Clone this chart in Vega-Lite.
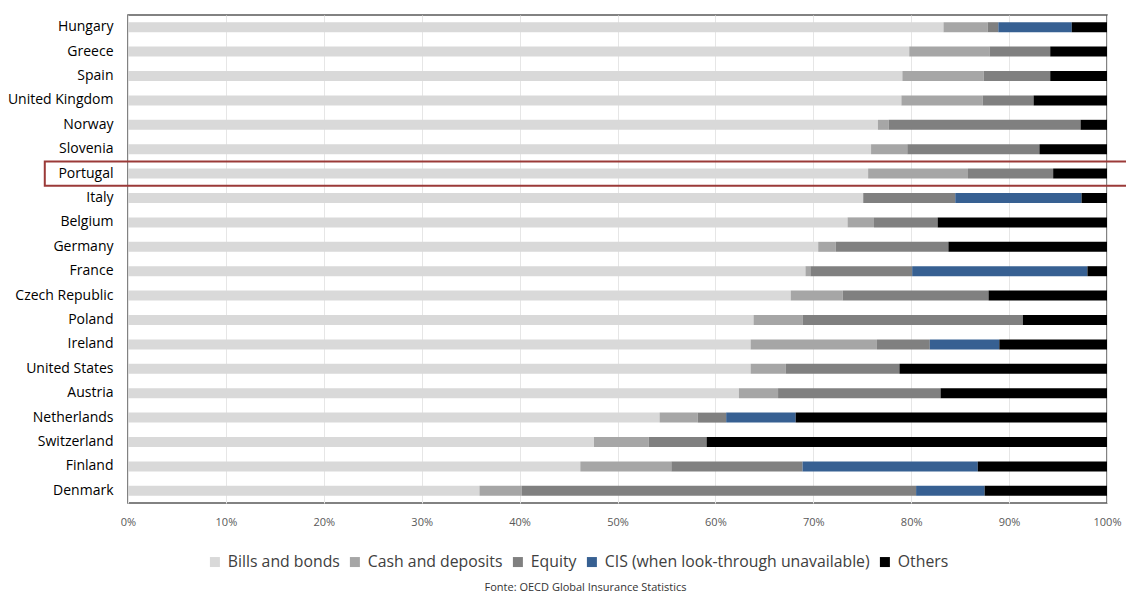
{
  "$schema": "https://vega.github.io/schema/vega-lite/v6.json",
  "width": 979,
  "height": 488,
  "autosize": "none",
  "padding": {"left": 128, "top": 15, "right": 19, "bottom": 90},
  "background": "white",
  "config": {"view": {"stroke": "#595959", "strokeWidth": 1.5}, "font": "Open Sans"},
  "data": {"values": [
    {"country": "Hungary", "Bills and bonds": 83.3, "Cash and deposits": 4.5, "Equity": 1.1, "CIS (when look-through unavailable)": 7.5, "Others": 3.6},
    {"country": "Greece", "Bills and bonds": 79.8, "Cash and deposits": 8.2, "Equity": 6.2, "CIS (when look-through unavailable)": 0, "Others": 5.8},
    {"country": "Spain", "Bills and bonds": 79.1, "Cash and deposits": 8.3, "Equity": 6.8, "CIS (when look-through unavailable)": 0, "Others": 5.8},
    {"country": "United Kingdom", "Bills and bonds": 79.0, "Cash and deposits": 8.3, "Equity": 5.2, "CIS (when look-through unavailable)": 0, "Others": 7.5},
    {"country": "Norway", "Bills and bonds": 76.6, "Cash and deposits": 1.1, "Equity": 19.6, "CIS (when look-through unavailable)": 0, "Others": 2.7},
    {"country": "Slovenia", "Bills and bonds": 75.9, "Cash and deposits": 3.7, "Equity": 13.5, "CIS (when look-through unavailable)": 0, "Others": 6.9},
    {"country": "Portugal", "Bills and bonds": 75.6, "Cash and deposits": 10.2, "Equity": 8.7, "CIS (when look-through unavailable)": 0, "Others": 5.5},
    {"country": "Italy", "Bills and bonds": 75.1, "Cash and deposits": 0, "Equity": 9.4, "CIS (when look-through unavailable)": 12.9, "Others": 2.6},
    {"country": "Belgium", "Bills and bonds": 73.5, "Cash and deposits": 2.7, "Equity": 6.5, "CIS (when look-through unavailable)": 0, "Others": 17.3},
    {"country": "Germany", "Bills and bonds": 70.5, "Cash and deposits": 1.8, "Equity": 11.5, "CIS (when look-through unavailable)": 0, "Others": 16.2},
    {"country": "France", "Bills and bonds": 69.2, "Cash and deposits": 0.5, "Equity": 10.4, "CIS (when look-through unavailable)": 17.9, "Others": 2.0},
    {"country": "Czech Republic", "Bills and bonds": 67.7, "Cash and deposits": 5.3, "Equity": 14.9, "CIS (when look-through unavailable)": 0, "Others": 12.1},
    {"country": "Poland", "Bills and bonds": 63.9, "Cash and deposits": 5.0, "Equity": 22.5, "CIS (when look-through unavailable)": 0, "Others": 8.6},
    {"country": "Ireland", "Bills and bonds": 63.6, "Cash and deposits": 12.9, "Equity": 5.4, "CIS (when look-through unavailable)": 7.1, "Others": 11.0},
    {"country": "United States", "Bills and bonds": 63.6, "Cash and deposits": 3.6, "Equity": 11.6, "CIS (when look-through unavailable)": 0, "Others": 21.2},
    {"country": "Austria", "Bills and bonds": 62.4, "Cash and deposits": 4.0, "Equity": 16.6, "CIS (when look-through unavailable)": 0, "Others": 17.0},
    {"country": "Netherlands", "Bills and bonds": 54.3, "Cash and deposits": 3.9, "Equity": 2.9, "CIS (when look-through unavailable)": 7.1, "Others": 31.8},
    {"country": "Switzerland", "Bills and bonds": 47.6, "Cash and deposits": 5.6, "Equity": 5.9, "CIS (when look-through unavailable)": 0, "Others": 40.9},
    {"country": "Finland", "Bills and bonds": 46.2, "Cash and deposits": 9.3, "Equity": 13.4, "CIS (when look-through unavailable)": 17.9, "Others": 13.2},
    {"country": "Denmark", "Bills and bonds": 35.9, "Cash and deposits": 4.3, "Equity": 40.3, "CIS (when look-through unavailable)": 7.0, "Others": 12.5}
  ]},
  "title": {"text": "Fonte: OECD Global Insurance Statistics", "orient": "bottom", "fontSize": 11, "fontWeight": "normal", "color": "#333333", "offset": 12, "dx": -32},
  "layer": [
    {
      "transform": [
        {"fold": ["Bills and bonds", "Cash and deposits", "Equity", "CIS (when look-through unavailable)", "Others"], "as": ["category", "value"]},
        {"calculate": "indexof(['Bills and bonds', 'Cash and deposits', 'Equity', 'CIS (when look-through unavailable)', 'Others'], datum.category)", "as": "ord"}
      ],
      "mark": {"type": "bar", "size": 10},
      "encoding": {
        "y": {
          "field": "country", "type": "nominal", "title": null,
          "sort": ["Hungary", "Greece", "Spain", "United Kingdom", "Norway", "Slovenia", "Portugal", "Italy", "Belgium", "Germany", "France", "Czech Republic", "Poland", "Ireland", "United States", "Austria", "Netherlands", "Switzerland", "Finland", "Denmark"],
          "scale": {"paddingInner": 0, "paddingOuter": 0},
          "axis": {"ticks": false, "domain": false, "labelPadding": 15, "labelFontSize": 14, "labelColor": "#000000"}
        },
        "x": {
          "field": "value", "type": "quantitative", "stack": "zero", "title": null,
          "scale": {"domain": [0, 100], "nice": false},
          "axis": {"values": [0, 10, 20, 30, 40, 50, 60, 70, 80, 90, 100], "labelExpr": "datum.value + '%'", "ticks": false, "domain": false, "grid": true, "gridColor": "#E6E6E6", "labelFontSize": 11, "labelColor": "#595959", "labelPadding": 13, "labelFlush": false}
        },
        "color": {
          "field": "category", "type": "nominal",
          "scale": {"domain": ["Bills and bonds", "Cash and deposits", "Equity", "CIS (when look-through unavailable)", "Others"], "range": ["#D9D9D9", "#A6A6A6", "#808080", "#376092", "#000000"]},
          "legend": {"orient": "none", "legendX": 79, "legendY": 539, "direction": "horizontal", "title": null, "symbolType": "square", "symbolSize": 100, "symbolStrokeWidth": 0, "labelFontSize": 15.8, "labelColor": "#404040", "labelLimit": 400, "columnPadding": 7, "labelOffset": 5}
        },
        "order": {"field": "ord"}
      }
    },
    {
      "data": {"values": [{}]},
      "mark": {"type": "rect", "fill": null, "stroke": "#9B3A38", "strokeWidth": 2, "clip": false},
      "encoding": {
        "y": {"datum": "Portugal", "type": "nominal"},
        "x": {"datum": -8.5},
        "x2": {"datum": 102.5}
      }
    }
  ]
}
